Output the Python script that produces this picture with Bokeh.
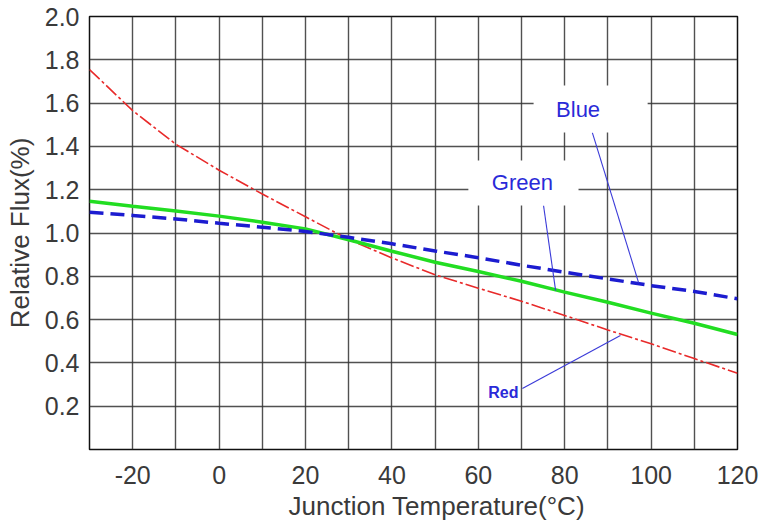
from bokeh.plotting import figure
from bokeh.models import (FixedTicker, NumeralTickFormatter, Range1d, Label, Title,
                          BoxAnnotation, Segment, ColumnDataSource)
from bokeh.embed import file_html
from bokeh.resources import INLINE

# ---- data ----
temperature = [-30, -20, -10, 0, 10, 20, 30, 40, 50, 60, 70, 80, 90, 100, 110, 120]
red_flux = [1.755, 1.565, 1.41, 1.29, 1.18, 1.075, 0.97, 0.885, 0.807, 0.745, 0.685, 0.619, 0.552, 0.488, 0.42, 0.352]
green_flux = [1.147, 1.124, 1.102, 1.078, 1.05, 1.019, 0.969, 0.916, 0.865, 0.822, 0.777, 0.727, 0.68, 0.63, 0.583, 0.531]
blue_flux = [1.096, 1.081, 1.065, 1.045, 1.027, 1.007, 0.98, 0.95, 0.917, 0.886, 0.851, 0.819, 0.788, 0.757, 0.73, 0.696]

x_ticks = [-20, 0, 20, 40, 60, 80, 100, 120]
y_ticks = [0.2, 0.4, 0.6, 0.8, 1.0, 1.2, 1.4, 1.6, 1.8, 2.0]
x_grid = list(range(-30, 121, 10))
y_grid = [0.0, 0.2, 0.4, 0.6, 0.8, 1.0, 1.2, 1.4, 1.6, 1.8, 2.0]

x_title = "Junction Temperature(\u00b0C)"
y_title = "Relative Flux(%)"

# annotation labels: text, x, y
label_names = ["Blue", "Green", "Red"]
label_x = [83.1, 70.2, 65.8]
label_y = [1.569, 1.235, 0.263]
# leader lines: x0, y0, x1, y1
leader_x0 = [86.4, 75.1, 70.2]
leader_y0 = [1.464, 1.127, 0.282]
leader_x1 = [97.1, 77.9, 92.9]
leader_y1 = [0.771, 0.734, 0.527]

FONT = "Liberation Sans"
TXT = "#3a3a3a"

p = figure(frame_width=648, frame_height=433,
           min_border_left=89, min_border_right=25, min_border_top=16, min_border_bottom=76,
           x_range=Range1d(-30, 120), y_range=Range1d(0, 2.0),
           output_backend="svg", toolbar_location=None,
           background_fill_color="white", border_fill_color="white")

p.outline_line_color = "#111111"
p.outline_line_width = 1.5

# grid
p.xgrid.ticker = FixedTicker(ticks=x_grid)
p.ygrid.ticker = FixedTicker(ticks=y_grid)
for g in (p.xgrid, p.ygrid):
    g.grid_line_color = "#333333"
    g.grid_line_width = 1.4
    g.grid_line_alpha = 0.85

# axes
p.xaxis.ticker = FixedTicker(ticks=x_ticks)
p.xaxis.major_label_overrides = {t: str(t) for t in x_ticks}
p.yaxis.ticker = FixedTicker(ticks=y_ticks)
p.yaxis.formatter = NumeralTickFormatter(format="0.0")
for ax in (p.xaxis, p.yaxis):
    ax.axis_line_color = None
    ax.major_tick_line_color = None
    ax.minor_tick_line_color = None
    ax.major_label_text_font = FONT
    ax.major_label_text_font_size = "25px"
    ax.major_label_text_color = TXT
    ax.axis_label_text_font = FONT
    ax.axis_label_text_font_size = "26px"
    ax.axis_label_text_font_style = "normal"
    ax.axis_label_text_color = TXT
p.xaxis.major_label_standoff = 10
p.yaxis.major_label_standoff = 4
p.yaxis.axis_label = y_title
p.yaxis.axis_label_standoff = 7

# x title (offset to the right as in the reference)
p.add_layout(Title(text=x_title, align="left", offset=199, standoff=4,
                   text_font=FONT, text_font_size="26px", text_font_style="normal",
                   text_color=TXT), "below")

# curves
p.line(temperature, red_flux, line_color="#e82a2a", line_width=1.6, line_dash="14 3 3 3")
p.line(temperature, green_flux, line_color="#22dd22", line_width=3.5)
p.line(temperature, blue_flux, line_color="#1c1cd0", line_width=3.5, line_dash="14 7")

# white boxes behind labels
p.add_layout(BoxAnnotation(left=72.8, right=99.2, bottom=1.464, top=1.681,
                           fill_color="white", fill_alpha=1.0, line_color=None))
p.add_layout(BoxAnnotation(left=57.7, right=83.2, bottom=1.127, top=1.335,
                           fill_color="white", fill_alpha=1.0, line_color=None))

# leader lines
src = ColumnDataSource(dict(x0=leader_x0, y0=leader_y0, x1=leader_x1, y1=leader_y1))
seg = Segment(x0="x0", y0="y0", x1="x1", y1="y1", line_color="#3a3ad8", line_width=1.1)
r = p.add_glyph(src, seg)
r.level = "annotation"

# labels
sizes = ["22px", "22px", "16px"]
styles = ["normal", "normal", "bold"]
for name, lx, ly, fs, st in zip(label_names, label_x, label_y, sizes, styles):
    p.add_layout(Label(x=lx, y=ly, text=name, text_align="center", text_baseline="middle",
                       text_font=FONT, text_font_size=fs, text_font_style=st,
                       text_color="#2a2ad8"))

open("out.html", "w").write(file_html(p, INLINE))
